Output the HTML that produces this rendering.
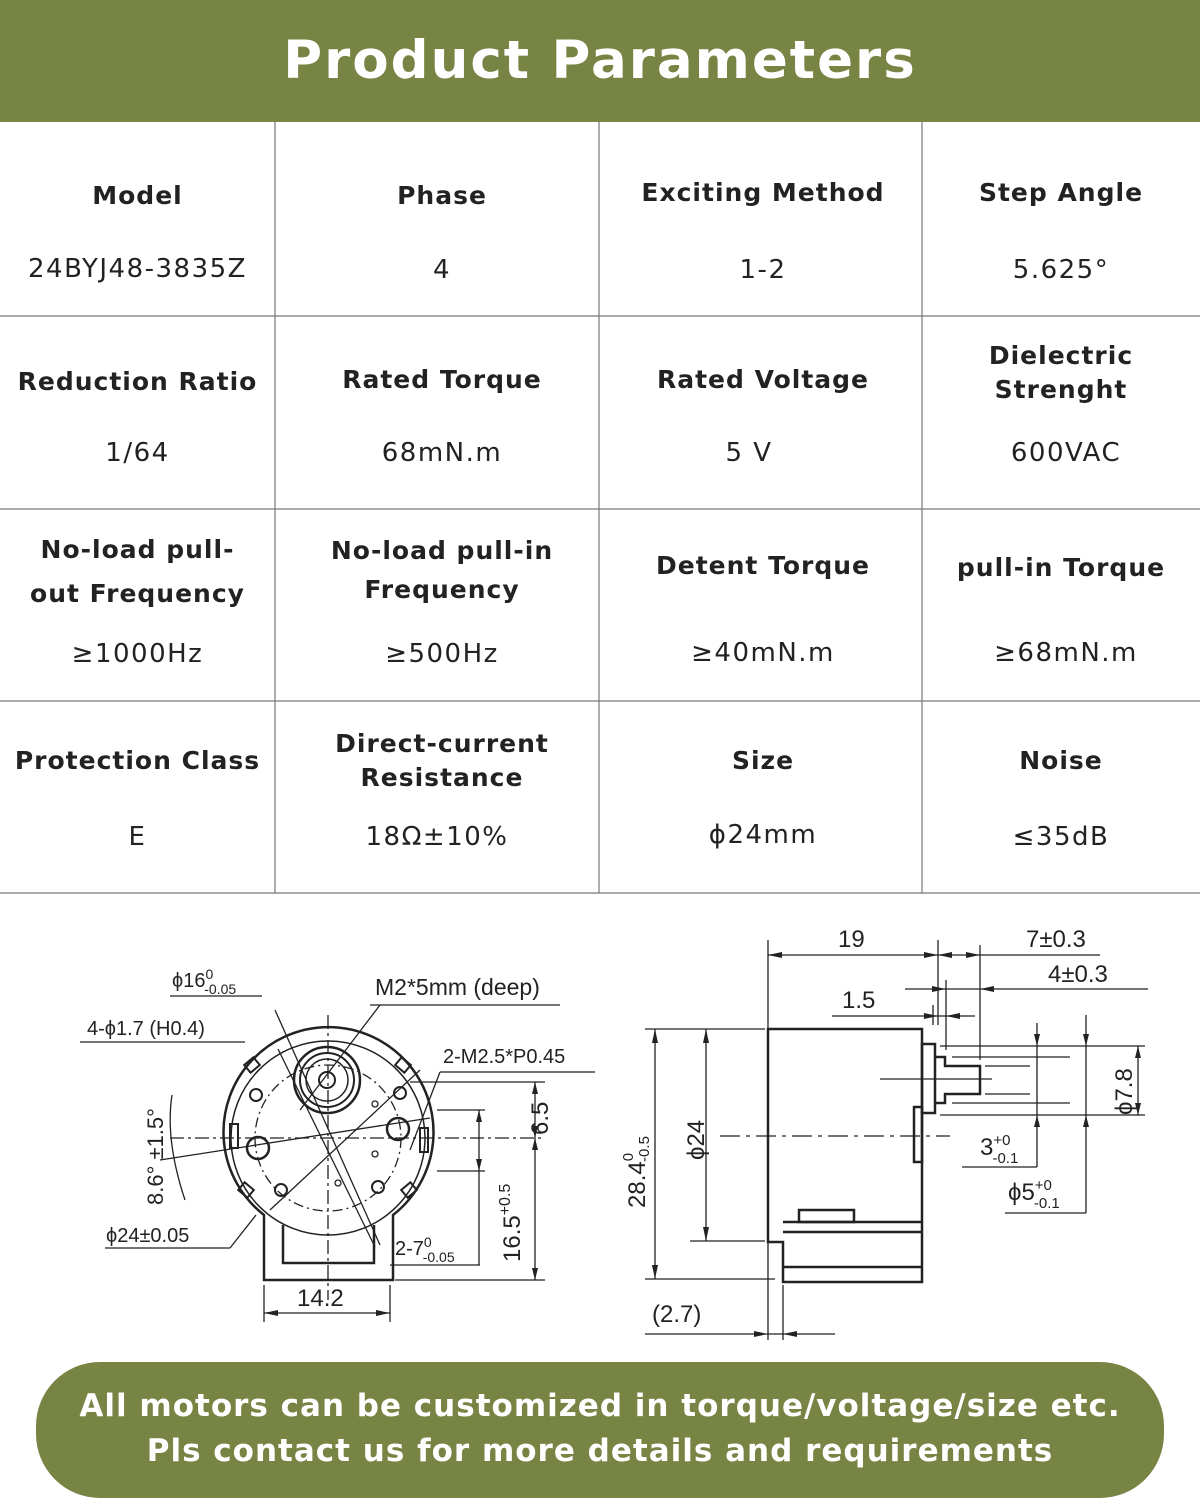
<!DOCTYPE html>
<html><head><meta charset="utf-8"><style>
body{margin:0;width:1200px;height:1504px;background:#fff;position:relative;font-family:"DejaVu Sans","Liberation Sans",sans-serif;color:#222;overflow:hidden}
.hdr{position:absolute;left:0;top:0;width:1200px;height:122px;background:#778444;color:#fff;font-size:53px;font-weight:bold;text-align:center;line-height:122px;letter-spacing:2px}
.t{position:absolute;text-align:center;letter-spacing:1.5px;font-size:26px;line-height:34px}
.b{font-weight:bold;letter-spacing:1px;font-size:25px}
.foot{position:absolute;left:36px;top:1362px;width:1128px;height:136px;border-radius:64px;background:#778444;color:#fff;font-size:31px;font-weight:bold;text-align:center;line-height:45px;letter-spacing:1px;padding-top:22px;box-sizing:border-box;white-space:nowrap}
svg{position:absolute;left:0;top:0}
</style></head><body>
<div class="hdr">Product Parameters</div>
<svg width="1200" height="1504" stroke="#777" stroke-width="1.2">
<line x1="0" y1="316" x2="1200" y2="316"/><line x1="0" y1="509" x2="1200" y2="509"/><line x1="0" y1="701" x2="1200" y2="701"/><line x1="0" y1="893" x2="1200" y2="893"/>
<line x1="275" y1="122" x2="275" y2="893"/><line x1="599" y1="122" x2="599" y2="893"/><line x1="922" y1="122" x2="922" y2="893"/>
</svg>
<!-- row1 -->
<div class="t b" style="left:0;width:275px;top:179px">Model</div>
<div class="t" style="left:0;width:275px;top:252px">24BYJ48-3835Z</div>
<div class="t b" style="left:285px;width:314px;top:179px">Phase</div>
<div class="t" style="left:285px;width:314px;top:253px">4</div>
<div class="t b" style="left:599px;width:328px;top:176px">Exciting Method</div>
<div class="t" style="left:599px;width:328px;top:253px">1-2</div>
<div class="t b" style="left:922px;width:278px;top:176px">Step Angle</div>
<div class="t" style="left:922px;width:278px;top:253px">5.625°</div>
<!-- row2 -->
<div class="t b" style="left:0;width:275px;top:365px">Reduction Ratio</div>
<div class="t" style="left:0;width:275px;top:436px">1/64</div>
<div class="t b" style="left:285px;width:314px;top:363px">Rated Torque</div>
<div class="t" style="left:285px;width:314px;top:436px">68mN.m</div>
<div class="t b" style="left:599px;width:328px;top:363px">Rated Voltage</div>
<div class="t" style="left:599px;width:300px;top:436px">5 V</div>
<div class="t b" style="left:922px;width:278px;top:339px">Dielectric<br>Strenght</div>
<div class="t" style="left:932px;width:268px;top:436px">600VAC</div>
<!-- row3 -->
<div class="t b" style="left:0;width:275px;top:528px;line-height:44px">No-load pull-<br>out Frequency</div>
<div class="t" style="left:0;width:275px;top:637px">≥1000Hz</div>
<div class="t b" style="left:285px;width:314px;top:531px;line-height:39px">No-load pull-in<br>Frequency</div>
<div class="t" style="left:285px;width:314px;top:637px">≥500Hz</div>
<div class="t b" style="left:599px;width:328px;top:549px">Detent Torque</div>
<div class="t" style="left:599px;width:328px;top:636px">≥40mN.m</div>
<div class="t b" style="left:922px;width:278px;top:551px">pull-in Torque</div>
<div class="t" style="left:932px;width:268px;top:636px">≥68mN.m</div>
<!-- row4 -->
<div class="t b" style="left:0;width:275px;top:744px">Protection Class</div>
<div class="t" style="left:0;width:275px;top:820px">E</div>
<div class="t b" style="left:285px;width:314px;top:727px">Direct-current<br>Resistance</div>
<div class="t" style="left:275px;width:324px;top:820px">18Ω±10%</div>
<div class="t b" style="left:599px;width:328px;top:744px">Size</div>
<div class="t" style="left:599px;width:328px;top:818px">ϕ24mm</div>
<div class="t b" style="left:922px;width:278px;top:744px">Noise</div>
<div class="t" style="left:922px;width:278px;top:820px">≤35dB</div>

<svg width="1200" height="1504" fill="none" stroke="#222" stroke-width="1.3" font-family="Liberation Sans, sans-serif">
<!-- left drawing -->
<g stroke-width="2.5">
<path d="M264 1215 A105 105 0 1 1 393 1215 L393 1280 L264 1280 Z"/>
<path d="M283 1225 L283 1263 L374 1263 L374 1225"/>
</g>
<circle cx="328" cy="1138" r="97" stroke-width="1.5"/>
<circle cx="328" cy="1138" r="73" stroke-dasharray="10 4 2 4"/>
<circle cx="327" cy="1080" r="33" stroke-width="2.5"/>
<circle cx="327" cy="1080" r="27" stroke-width="2"/>
<circle cx="327" cy="1080" r="21" stroke-width="1.5"/>
<circle cx="327" cy="1080" r="8" stroke-width="2"/>
<circle cx="258" cy="1148" r="11" stroke-width="2.5"/>
<circle cx="398" cy="1129" r="11" stroke-width="2.5"/>
<circle cx="256" cy="1095" r="6" stroke-width="2"/><circle cx="400" cy="1093" r="6" stroke-width="2"/>
<circle cx="281" cy="1190" r="6" stroke-width="2"/><circle cx="378" cy="1187" r="6" stroke-width="2"/>
<circle cx="375" cy="1104" r="3"/><circle cx="375" cy="1154" r="3"/><circle cx="338" cy="1183" r="3"/>
<rect x="230" y="1124" width="8" height="24" stroke-width="2"/><rect x="420" y="1128" width="8" height="24" stroke-width="2"/>
<rect x="246" y="1060" width="12" height="10" stroke-width="2" transform="rotate(-40 252 1065)"/>
<rect x="397" y="1060" width="12" height="10" stroke-width="2" transform="rotate(40 403 1065)"/>
<rect x="240" y="1185" width="12" height="10" stroke-width="2" transform="rotate(40 246 1190)"/>
<rect x="403" y="1185" width="12" height="10" stroke-width="2" transform="rotate(-40 409 1190)"/>
<line x1="328" y1="1015" x2="328" y2="1300" stroke-dasharray="14 4 3 4"/>
<line x1="170" y1="1138" x2="545" y2="1138" stroke-dasharray="14 4 3 4"/>
<line x1="160" y1="1160" x2="430" y2="1118"/>
<line x1="270" y1="1210" x2="420" y2="1070"/><line x1="275" y1="1010" x2="380" y2="1245"/>
<line x1="278" y1="1049" x2="375" y2="1247"/><line x1="380" y1="1005" x2="300" y2="1110"/>
<line x1="370" y1="1005" x2="560" y2="1005"/><line x1="80" y1="1042" x2="245" y2="1042"/>
<line x1="440" y1="1072" x2="595" y2="1072"/><line x1="440" y1="1072" x2="410" y2="1150"/>
<line x1="105" y1="1248" x2="230" y2="1248"/><line x1="230" y1="1248" x2="256" y2="1215"/>
<line x1="170" y1="996" x2="262" y2="996"/>
<line x1="390" y1="1265" x2="480" y2="1265"/>
<line x1="410" y1="1082" x2="545" y2="1082"/><line x1="437" y1="1110" x2="485" y2="1110"/><line x1="437" y1="1171" x2="485" y2="1171"/>
<line x1="395" y1="1280" x2="545" y2="1280"/>
<line x1="535" y1="1082" x2="535" y2="1280"/><line x1="479" y1="1110" x2="479" y2="1265"/>
<line x1="264" y1="1285" x2="264" y2="1322"/><line x1="390" y1="1285" x2="390" y2="1322"/><line x1="264" y1="1313" x2="390" y2="1313"/>
<path d="M172 1095 Q165 1140 185 1200"/>
<g font-size="20" fill="#222" stroke="none">
<text x="172" y="987">ϕ16<tspan font-size="14" dy="-8">0</tspan><tspan font-size="14" dx="-9" dy="15">-0.05</tspan></text>
<text x="375" y="995" font-size="23">M2*5mm (deep)</text>
<text x="87" y="1035">4-ϕ1.7 (H0.4)</text>
<text x="443" y="1063">2-M2.5*P0.45</text>
<text x="106" y="1242">ϕ24±0.05</text>
<text x="395" y="1255">2-7<tspan font-size="14" dy="-8">0</tspan><tspan font-size="14" dx="-9" dy="15">-0.05</tspan></text>
<text x="297" y="1306" font-size="24">14.2</text>
<text transform="translate(548 1135) rotate(-90)" font-size="24">6.5</text>
<text transform="translate(520 1262) rotate(-90)" font-size="24">16.5<tspan font-size="16" dy="-10">+0.5</tspan></text>
<text transform="translate(163 1205) rotate(-90)" font-size="22">8.6° ±1.5°</text>
</g>
<!-- right drawing -->
<g stroke-width="2.5">
<path d="M768 1029 L922 1029 L922 1282 L783 1282 L783 1242 L768 1242 Z"/>
<line x1="783" y1="1222" x2="922" y2="1222"/><line x1="783" y1="1232" x2="922" y2="1232"/><line x1="783" y1="1267" x2="922" y2="1267"/>
<rect x="799" y="1210" width="55" height="12"/>
<rect x="914" y="1107" width="8" height="55"/>
<rect x="922" y="1044" width="13" height="69"/>
<path d="M935 1057 L945 1057 L945 1066 L980 1066 L980 1094 L945 1094 L945 1103 L935 1103"/>
</g>
<line x1="720" y1="1136" x2="950" y2="1136" stroke-dasharray="20 6 4 6"/>
<line x1="880" y1="1079" x2="992" y2="1079"/>
<line x1="768" y1="940" x2="768" y2="1340"/><line x1="783" y1="1285" x2="783" y2="1340"/>
<line x1="938" y1="940" x2="938" y2="1025"/><line x1="980" y1="945" x2="980" y2="1060"/><line x1="946" y1="980" x2="946" y2="1050"/><line x1="933" y1="1005" x2="933" y2="1025"/>
<line x1="768" y1="955" x2="1100" y2="955"/><line x1="905" y1="989" x2="1148" y2="989"/><line x1="832" y1="1016" x2="975" y2="1016"/>
<line x1="645" y1="1029" x2="765" y2="1029"/><line x1="645" y1="1279" x2="775" y2="1279"/><line x1="690" y1="1241" x2="765" y2="1241"/>
<line x1="655" y1="1029" x2="655" y2="1279"/><line x1="706" y1="1029" x2="706" y2="1241"/>
<line x1="940" y1="1046" x2="1145" y2="1046"/><line x1="940" y1="1115" x2="1145" y2="1115"/>
<line x1="952" y1="1057" x2="1070" y2="1057"/><line x1="952" y1="1103" x2="1070" y2="1103"/>
<line x1="985" y1="1066" x2="1030" y2="1066"/><line x1="985" y1="1094" x2="1030" y2="1094"/>
<line x1="1037" y1="1023" x2="1037" y2="1167"/><line x1="1086" y1="1015" x2="1086" y2="1213"/><line x1="1138" y1="1046" x2="1138" y2="1115"/>
<line x1="962" y1="1167" x2="1037" y2="1167"/><line x1="1005" y1="1213" x2="1086" y2="1213"/>
<line x1="645" y1="1334" x2="835" y2="1334"/>
<g fill="#222" stroke="none">
<path d="M768 955 l14 -3 v6z M938 955 l-14 -3 v6z M938 955 l14 -3 v6z M980 955 l-14 -3 v6z M946 989 l-14 -3 v6z M980 989 l14 -3 v6z M938 1016 l-14 -3 v6z M946 1016 l14 -3 v6z"/>
<path d="M655 1029 l-3 14 h6z M655 1279 l-3 -14 h6z M706 1029 l-3 14 h6z M706 1241 l-3 -14 h6z"/>
<path d="M1037 1046 l-3 -12 h6z M1037 1115 l-3 12 h6z M1086 1046 l-3 -12 h6z M1086 1115 l-3 12 h6z M1138 1046 l-3 12 h6z M1138 1115 l-3 -12 h6z"/>
<path d="M768 1334 l-14 -3 v6z M783 1334 l14 -3 v6z"/>
<path d="M535 1082 l-3 12 h6z M535 1138 l-3 -12 h6z M535 1138 l-3 12 h6z M535 1280 l-3 -12 h6z M479 1110 l-3 12 h6z M479 1171 l-3 -12 h6z M264 1313 l14 -3 v6z M390 1313 l-14 -3 v6z"/>
</g>
<g font-size="24" fill="#222" stroke="none">
<text x="838" y="947">19</text>
<text x="1026" y="947">7±0.3</text>
<text x="1048" y="982">4±0.3</text>
<text x="842" y="1008">1.5</text>
<text x="980" y="1155">3<tspan font-size="15" dy="-10">+0</tspan><tspan font-size="15" dx="-18" dy="18">-0.1</tspan></text>
<text x="1008" y="1200">ϕ5<tspan font-size="15" dy="-10">+0</tspan><tspan font-size="15" dx="-18" dy="18">-0.1</tspan></text>
<text x="652" y="1322">(2.7)</text>
<text transform="translate(704 1160) rotate(-90)">ϕ24</text>
<text transform="translate(1132 1115) rotate(-90)">ϕ7.8</text>
<text transform="translate(645 1208) rotate(-90)">28.4<tspan font-size="15" dy="-12">0</tspan><tspan font-size="15" dx="-9" dy="16">-0.5</tspan></text>
</g>
</svg>
<div class="foot">All motors can be customized in torque/voltage/size etc.<br>Pls contact us for more details and requirements</div>
</body></html>
